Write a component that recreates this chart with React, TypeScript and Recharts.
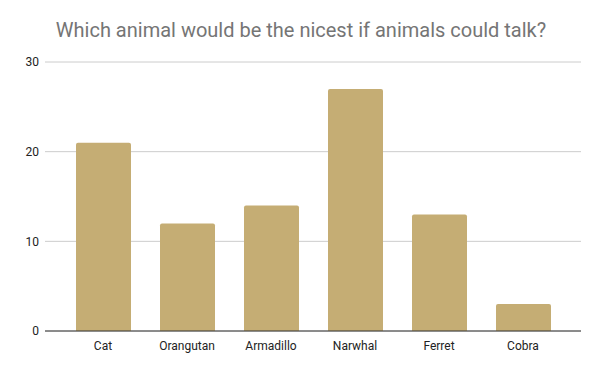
import React from "react";
import { BarChart, Bar, XAxis, YAxis, CartesianGrid } from "recharts";

const categories = ["Cat", "Orangutan", "Armadillo", "Narwhal", "Ferret", "Cobra"];
const votes = [21, 12, 14, 27, 13, 3];
const yTicks = [0, 10, 20, 30];

const data = categories.map((name, i) => ({ name, value: votes[i] }));

export default function App() {
  return (
    <div style={{ position: "absolute", left: 0, top: 0, width: 600, height: 371, background: "#fff", fontFamily: "Roboto" }}>
      <div
        style={{
          position: "absolute",
          top: 16,
          left: 1,
          width: 600,
          textAlign: "center",
          fontSize: 20,
          color: "#757575",
          fontFamily: "Roboto",
          lineHeight: "28px",
        }}
      >
        Which animal would be the nicest if animals could talk?
      </div>
      <BarChart
        width={600}
        height={371}
        data={data}
        margin={{ top: 62, right: 19, bottom: 10, left: 0 }}
      >
        <CartesianGrid vertical={false} stroke="#cccccc" />
        <XAxis
          dataKey="name"
          padding={{ left: 16, right: 16 }}
          tickLine={false}
          tickMargin={4}
          axisLine={{ stroke: "#333333" }}
          tick={{ fill: "#222222", fontSize: 12, fontFamily: "Roboto" }}
        />
        <YAxis
          width={45}
          domain={[0, 30]}
          ticks={yTicks}
          axisLine={false}
          tickLine={false}
          tickMargin={0}
          tick={{ fill: "#222222", fontSize: 12, fontFamily: "Roboto" }}
        />
        <Bar dataKey="value" fill="#c5ad74" barSize={55} radius={[2, 2, 0, 0]} isAnimationActive={false} />
      </BarChart>
    </div>
  );
}
